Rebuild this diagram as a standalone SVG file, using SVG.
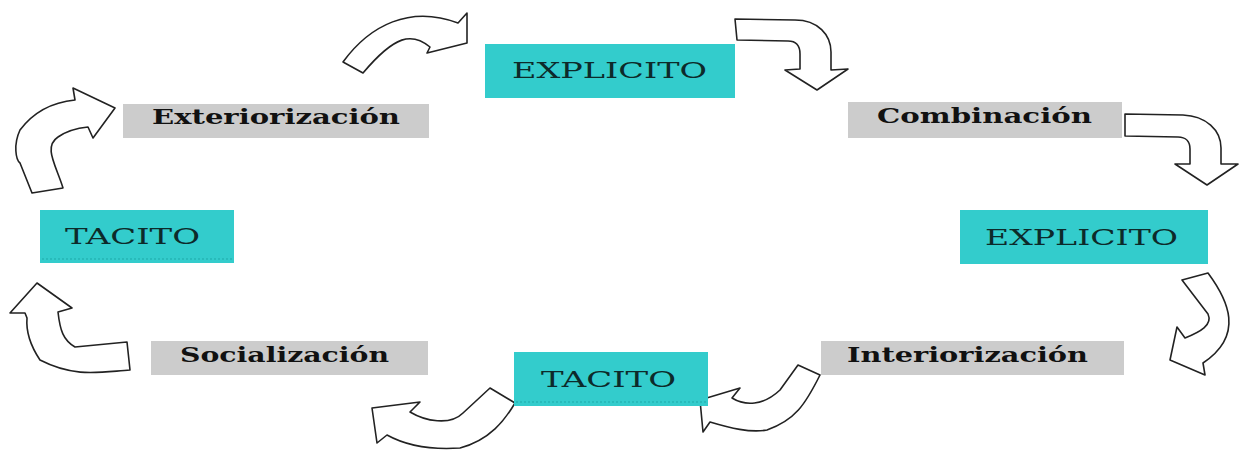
<svg xmlns="http://www.w3.org/2000/svg" width="1246" height="450" viewBox="0 0 1246 450">
<style>
.teal{fill:#33CCCC;}
.gray{fill:#CCCCCC;}
.tt{font-family:"DejaVu Serif","Liberation Serif",serif;font-size:23px;fill:#0d2a2a;}
.gt{font-family:"DejaVu Serif","Liberation Serif",serif;font-size:20px;font-weight:bold;fill:#111;}
.arr{fill:#fff;stroke:#222;stroke-width:1.6;stroke-linejoin:round;}
.dot{stroke:#1fa9a9;stroke-width:1;stroke-dasharray:2 2;}
</style>
<rect width="1246" height="450" fill="#fff"/>
<g id="connectors">
<path class="arr" d="M343,62 C370,25 410,5 458,23 L467,13 L467,43 L427,53 L430,47 C412,32 395,35 363,73 Z"/>
<path class="arr" d="M735,19 L795,20 C818,20 831,35 831,52 L831,70 L848,69 L817,90 L785,70 L800,69 L800,54 C800,46 796,41 788,41 L737,40 Z"/>
<path class="arr" d="M1125,114 L1183,115 C1206,116 1221,130 1221,148 L1221,164 L1238,164 L1207,185 L1175,164 L1190,164 L1190,149 C1190,142 1186,137 1178,137 L1125,136 Z"/>
<path class="arr" d="M1182,280 L1208,273 C1228,300 1245,335 1203,363 L1205,375 L1170,360 L1177,327 L1185,338 C1200,332 1213,325 1208,314 Z"/>
<path class="arr" d="M798,365 L820,375 C805,405 795,420 767,430 C750,433 730,428 710,422 L703,432 L700,400 L740,388 L732,398 C745,406 763,406 780,390 Z"/>
<path class="arr" d="M490,388 L515,403 C505,420 490,440 460,448 C430,450 405,445 387,435 L377,443 L372,408 L420,402 L410,412 C425,421 450,426 463,413 Z"/>
<path class="arr" d="M127,342 L130,370 C100,372 75,378 40,360 C30,345 26,330 27,318 L25,313 L10,313 L37,283 L72,308 L58,312 C60,330 63,340 75,347 Z"/>
<path class="arr" d="M32,193 L63,188 C56,165 43,147 58,137 C68,130 78,128 88,127 L93,138 L115,108 L73,88 L75,100 C55,102 35,110 20,130 C13,145 16,160 20,163 Z"/>
</g>
<g id="explicito-top">
<rect class="teal" x="485" y="44" width="250" height="54"/>
<text class="tt" x="512" y="78" textLength="195" lengthAdjust="spacingAndGlyphs">EXPLICITO</text>
</g>
<g id="exteriorizacion">
<rect class="gray" x="123" y="104" width="306" height="34"/>
<text class="gt" x="152" y="124" textLength="248" lengthAdjust="spacingAndGlyphs">Exteriorización</text>
</g>
<g id="combinacion">
<rect class="gray" x="848" y="102" width="274" height="36"/>
<text class="gt" x="877" y="123" textLength="215" lengthAdjust="spacingAndGlyphs">Combinación</text>
</g>
<g id="explicito-right">
<rect class="teal" x="960" y="210" width="248" height="54"/>
<text class="tt" x="985" y="245" textLength="193" lengthAdjust="spacingAndGlyphs">EXPLICITO</text>
</g>
<g id="tacito-left">
<rect class="teal" x="40" y="210" width="194" height="53"/>
<line class="dot" x1="42" y1="259" x2="232" y2="259"/>
<text class="tt" x="65" y="244" textLength="135" lengthAdjust="spacingAndGlyphs">TACITO</text>
</g>
<g id="socializacion">
<rect class="gray" x="151" y="341" width="277" height="34"/>
<text class="gt" x="180" y="362" textLength="209" lengthAdjust="spacingAndGlyphs">Socialización</text>
</g>
<g id="tacito-bottom">
<rect class="teal" x="514" y="352" width="194" height="54"/>
<line class="dot" x1="516" y1="402" x2="706" y2="402"/>
<text class="tt" x="541" y="387" textLength="135" lengthAdjust="spacingAndGlyphs">TACITO</text>
</g>
<g id="interiorizacion">
<rect class="gray" x="821" y="341" width="303" height="34"/>
<text class="gt" x="847" y="362" textLength="241" lengthAdjust="spacingAndGlyphs">Interiorización</text>
</g>
</svg>
